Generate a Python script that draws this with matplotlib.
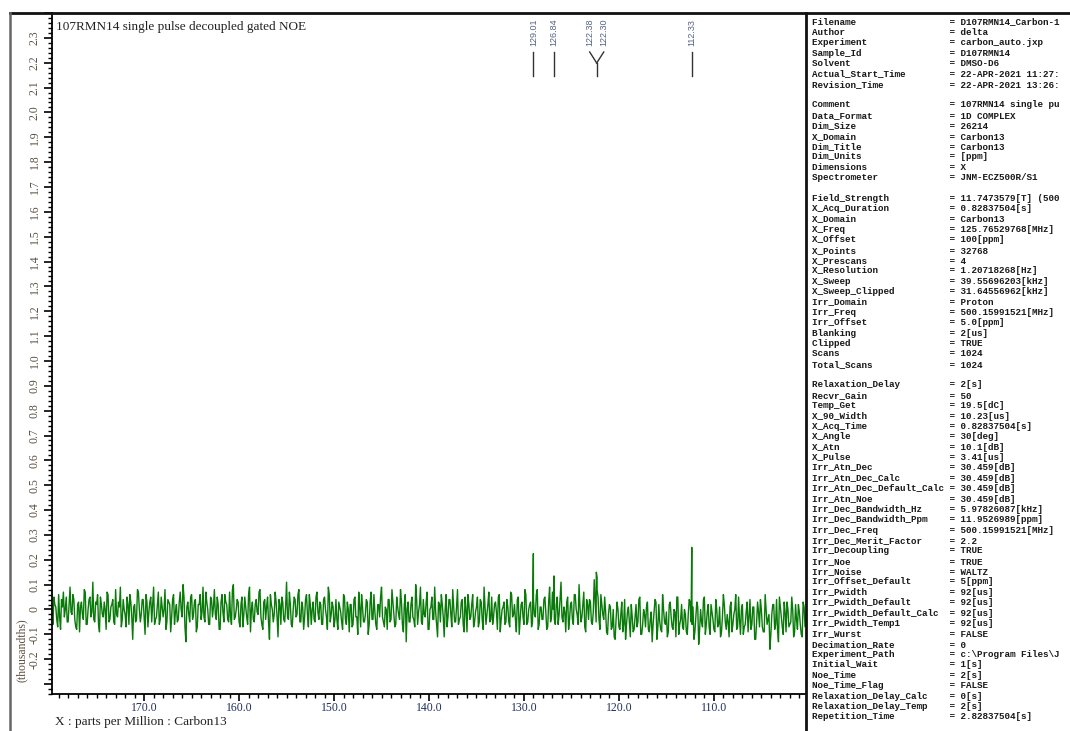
import numpy as np
import matplotlib.pyplot as plt
from matplotlib.lines import Line2D
from matplotlib.ticker import MultipleLocator, FuncFormatter
from matplotlib.transforms import blended_transform_factory

#%% datos
title = '107RMN14 single pulse decoupled gated NOE'
xlabel = 'X : parts per Million : Carbon13'
ylabel = '(thousandths)'

# ruido de la linea de base (centesimas), de 179.8 a 100.2 ppm
noise_a = [3, -6, 2, -4, 6, -8, 1, -3, 5, -5, 9, -2, 4, -7, 2, -9, 3, -4, 7, -6,
           4, -3, 11, -5, 2, -6, 5, -2, 3, -8, 6, -4, 2, -5, 8, -3, 1, -7, 4, -2,
           5, -6, 3, -12, 2, -4, 7, -5, 4, -3, 6, -7, 3, -5, 9, -4, 2, -6, 5, -3,
           8, -5, 3, -9, 4, -6, 2, -4, 7, -3, 5, -13, 3, -5, 6, -2, 4, -7, 2, -4,
           9, -5, 3, -6, 5, -3, 8, -4, 2, -8, 6, -5, 3, -4, 7, -6, 10, -3, 4, -5,
           2, -7, 5, -3, 6, -9, 3, -5, 4, -2, 8, -6, 3, -4, 5, -12, 2, -5, 7, -3,
           4, -6, 3, -5, 11, -4, 2, -7, 5, -3, 6, -5, 3, -8, 4, -2, 6, -6, 3, -5,
           7, -4, 2, -6, 5, -3, 9, -5, 3, -7]
noise_b = [4, -8, 1, -5, 6, -4, 3, -9, 2, -6, 5, -3, 7, -7, 1, -5, 4, -10, 3, -4,
           6, -6, 2, -3, 9, -5, 1, -8, 4, -4, 3, -7, 5, -2, 8, -6, 2, -13, 3, -5,
           5, -4, 10, -6, 2, -5, 4, -3, 7, -8, 1, -4, 9, -6, 3, -5, 2, -11, 6, -3,
           4, -7, 1, -5, 8, -4, 3, -6, 5, -9, 2, -3, 6, -5, 1, -7, 4, -4, 9, -6,
           2, -5, 5, -3, 3, -8, 6, -4, 1, -6, 4, -5, 7, -3, 2, -9, 5, -4, 3, -6,
           6, -5, 2, -7, 4, -3, 8, -6, 1, -4, 5, -8, 3, -5, 7, -4, 2, -6, 4, -3,
           1, -9, 5, -4, 3, -6, 6, -2, 10, -5, 2, -7, 4, -4, 3, -6, 12, -5, 5, -8,
           2, -4]
noise_c = [-1, -10, 2, -8, 0, -12, 3, -7, -2, -9, 4, -6, 1, -11, -3, -8, 2, -5, 5, -10,
           0, -7, 3, -9, -1, -6, 4, -12, 2, -8, 6, -5, -1, -9, 3, -7, 0, -11, 5, -6,
           2, -8, -2, -10, 4, -5, 1, -9, 3, -14, 0, -7, 5, -6, 2, -10, -1, -8, 4, -7,
           1, -9, 6, -5, -2, -11, 3, -6, 0, -8, 5, -10, 2, -7, -1, -9, 4, -6, 1, -12,
           3, -7, 0, -9, 6, -6, -2, -10, 2, -8, 4, -13, 1, -7, 3, -9, 0, -6, 5, -11,
           2, -8, -1, -10, 3, -7, 1]

# puntos intermedios (centesimas), de 179.7 a 100.3 ppm
mid_a = [-2, 5, 1, -7, -3, 4, 7, 0, -5, 2, -1, 6, -4, -8, 3, 1, -2, 8, -6, 0,
         5, -1, -4, 3, 6, -9, 2, -3, 0, 7, -5, 1, 4, -6, -2, 3, 9, -4, 0, -7,
         2, 6, -3, 1, -5, 8, 0, -2, 4, -10, 3, -1, 5, 2, -6, -3, 7, -4, 1, 0,
         -8, 4, 2, -3, 6, -1, -5, 3, 0, 10, -7, 1, -2, 5, -4, 3, -9, 2, 6, -1,
         -3, 7, 0, -6, 4, 1, -2, 5, -8, 3, -1, 6, 2, -5, -3, 8, -4, 0, 3, -7,
         5, -2, 1, -6, 9, 0, -4, 2, -1, 7, -3, -8, 4, 1, -5, 6, 0, -2, 3, -11,
         2, 5, -4, 1, -3, 7, -6, 0, 4, -2, 8, -5, 1, -3, 6, -7, 2, 0, -4, 5,
         -1, 3, -6, 4, 0, -8, 6, -2, 1, -4]
mid_b = [-4, 3, -1, -8, 5, -6, 0, 2, -7, 4, -3, -10, 1, 6, -5, -2, 3, -6, 7, -4,
         -1, -8, 2, 5, -3, -7, 0, 4, -5, 8, -2, -6, 1, -4, 3, -9, 6, 0, -5, 2,
         -3, -7, 4, -1, 9, -6, -2, 3, -8, 0, 5, -4, -1, -11, 2, 6, -3, 0, -7, 4,
         -2, 8, -5, 1, -6, -3, 4, -9, 0, 6, -4, 2, -7, -1, 5, -5, 3, -8, 1, -2,
         7, -4, -6, 2, -1, 5, -9, 0, 3, -5, 1, -7, 6, -2, -4, 4, -10, 2, -3, 8,
         -6, 0, 3, -5, -2, 6, -8, 1, -4, 4, -1, -7, 9, -3, 0, -6, 5, -2, 11, -5,
         -1, 3, -8, 2, -4, 6, 0, -6, 1, -3, 7, -9, 2, 4, -5, -1, 3, 8, -4, 6,
         -2, 5]
mid_c = [-9, -2, 1, -7, -11, -4, 0, -8, 3, -6, -12, -1, -5, 2, -9, -3, -7, 4, -10, -6,
         -2, 1, -8, -4, -13, -1, 3, -7, -5, -9, 0, -6, -11, 2, -3, -8, -1, 5, -10, -4,
         -7, 0, -9, -2, 3, -6, -12, -3, 1, -8, -5, 4, -10, -1, -7, 2, -4, -9, 0, -6,
         -11, -3, 2, -8, -5, 1, -9, -2, 6, -7, -4, 0, -10, -6, 3, -3, -8, 1, -12, -5,
         -1, 4, -7, -9, 0, -4, -16, -2, 2, -6, -8, 5, -3, -10, -1, 3, -7, -5, 0, -9,
         -4, 2, -6, -11, 1, -3]

# picos
peak_ppm = [129.01, 126.84, 122.38, 122.30, 112.33]
peak_height = [0.225, 0.135, 0.150, 0.130, 0.250]
peak_labels = ['129.01', '126.84', '122.38', '122.30', '112.33']

# parametros de adquisicion
params = [
    ('Filename', 'D107RMN14_Carbon-1'), ('Author', 'delta'),
    ('Experiment', 'carbon_auto.jxp'), ('Sample_Id', 'D107RMN14'),
    ('Solvent', 'DMSO-D6'), ('Actual_Start_Time', '22-APR-2021 11:27:'),
    ('Revision_Time', '22-APR-2021 13:26:'), None,
    ('Comment', '107RMN14 single pu'), ('Data_Format', '1D COMPLEX'),
    ('Dim_Size', '26214'), ('X_Domain', 'Carbon13'), ('Dim_Title', 'Carbon13'),
    ('Dim_Units', '[ppm]'), ('Dimensions', 'X'), ('Spectrometer', 'JNM-ECZ500R/S1'), None,
    ('Field_Strength', '11.7473579[T] (500'), ('X_Acq_Duration', '0.82837504[s]'),
    ('X_Domain', 'Carbon13'), ('X_Freq', '125.76529768[MHz]'), ('X_Offset', '100[ppm]'),
    ('X_Points', '32768'), ('X_Prescans', '4'), ('X_Resolution', '1.20718268[Hz]'),
    ('X_Sweep', '39.55696203[kHz]'), ('X_Sweep_Clipped', '31.64556962[kHz]'),
    ('Irr_Domain', 'Proton'), ('Irr_Freq', '500.15991521[MHz]'), ('Irr_Offset', '5.0[ppm]'),
    ('Blanking', '2[us]'), ('Clipped', 'TRUE'), ('Scans', '1024'), ('Total_Scans', '1024'), None,
    ('Relaxation_Delay', '2[s]'), ('Recvr_Gain', '50'), ('Temp_Get', '19.5[dC]'),
    ('X_90_Width', '10.23[us]'), ('X_Acq_Time', '0.82837504[s]'), ('X_Angle', '30[deg]'),
    ('X_Atn', '10.1[dB]'), ('X_Pulse', '3.41[us]'), ('Irr_Atn_Dec', '30.459[dB]'),
    ('Irr_Atn_Dec_Calc', '30.459[dB]'), ('Irr_Atn_Dec_Default_Calc', '30.459[dB]'),
    ('Irr_Atn_Noe', '30.459[dB]'), ('Irr_Dec_Bandwidth_Hz', '5.97826087[kHz]'),
    ('Irr_Dec_Bandwidth_Ppm', '11.9526989[ppm]'), ('Irr_Dec_Freq', '500.15991521[MHz]'),
    ('Irr_Dec_Merit_Factor', '2.2'), ('Irr_Decoupling', 'TRUE'), ('Irr_Noe', 'TRUE'),
    ('Irr_Noise', 'WALTZ'), ('Irr_Offset_Default', '5[ppm]'), ('Irr_Pwidth', '92[us]'),
    ('Irr_Pwidth_Default', '92[us]'), ('Irr_Pwidth_Default_Calc', '92[us]'),
    ('Irr_Pwidth_Temp1', '92[us]'), ('Irr_Wurst', 'FALSE'), ('Decimation_Rate', '0'),
    ('Experiment_Path', 'c:\\Program Files\\J'), ('Initial_Wait', '1[s]'),
    ('Noe_Time', '2[s]'), ('Noe_Time_Flag', 'FALSE'), ('Relaxation_Delay_Calc', '0[s]'),
    ('Relaxation_Delay_Temp', '2[s]'), ('Repetition_Time', '2.82837504[s]'),
]

#%% armo el espectro
noise = np.array(noise_a + noise_b + noise_c) * 0.01
mid = np.array(mid_a + mid_b + mid_c) * 0.01
grid = np.linspace(179.8, 100.2, len(noise))
grid_mid = np.linspace(179.7, 100.3, len(mid))
ppm = np.concatenate([grid, grid_mid, peak_ppm])
inten = np.concatenate([noise, mid, peak_height])
order = np.argsort(ppm)[::-1]
ppm, inten = ppm[order], inten[order]

#%% grafico
W, H = 1070, 731
fig = plt.figure(figsize=(W / 100, H / 100), dpi=100)
ax = fig.add_axes([52 / W, 1 - 694 / H, (806 - 52) / W, (694 - 13) / H])
ax.plot(ppm, inten, color='#087a08', lw=1.0)
ax.set_xlim(179.7, 100.3)
ax.set_ylim(-0.34, 2.40)

for s in ['top', 'right']:
    ax.spines[s].set_visible(False)
ax.spines['left'].set_linewidth(1.3)
ax.spines['bottom'].set_linewidth(1.3)

ax.xaxis.set_major_locator(MultipleLocator(10))
ax.xaxis.set_minor_locator(MultipleLocator(1))
ax.xaxis.set_major_formatter(FuncFormatter(lambda v, p: '%.1f' % v))
ax.tick_params(axis='x', which='major', length=5, width=1.2, direction='out',
               labelsize=8.5, labelcolor='#1f2f5f', pad=1)
ax.tick_params(axis='x', which='minor', length=3, width=1.0, direction='out')

ax.yaxis.set_major_locator(MultipleLocator(0.1))
ax.yaxis.set_minor_locator(MultipleLocator(0.02))


def yfmt(v, p):
    if v < -0.25 or v > 2.35:
        return ''
    if abs(v) < 1e-9:
        return '0'
    return '%.1f' % v


ax.yaxis.set_major_formatter(FuncFormatter(yfmt))
ax.tick_params(axis='y', which='major', length=6, width=1.2, direction='out',
               labelsize=8.5, labelcolor='#5e5040', labelrotation=90, pad=2)
ax.tick_params(axis='y', which='minor', length=3, width=1.0, direction='out')
for t in ax.get_xticklabels() + ax.get_yticklabels():
    t.set_family('Liberation Serif')
for t in ax.get_yticklabels():
    t.set_va('center')

fig.text(56 / W, 1 - 27 / H, title, family='Liberation Serif', fontsize=9.5,
         color='#222222', va='center', ha='left')
fig.text(55 / W, 1 - 722 / H, xlabel, family='Liberation Serif', fontsize=9.5,
         color='#222222', va='center', ha='left')
fig.text(22 / W, 1 - 650 / H, ylabel, family='Liberation Serif', fontsize=8.5,
         color='#5e5040', va='center', ha='center', rotation=90)

# marcas de picos
tr = blended_transform_factory(ax.transData, fig.transFigure)
shift = [0, 0, 0.7, -0.7, 0]
y_top, y_mid, y_bot, y_lab = 1 - 52 / H, 1 - 63 / H, 1 - 76 / H, 1 - 46 / H
pair = (peak_ppm[2] + peak_ppm[3]) / 2
for i, (p, lab) in enumerate(zip(peak_ppm, peak_labels)):
    xl = p + shift[i]
    fig.text(xl, y_lab, lab, transform=tr, rotation=90, ha='center', va='bottom',
             fontsize=6.5, color='#55647f', family='Liberation Sans')
    if shift[i] == 0:
        fig.add_artist(Line2D([p, p], [y_top, y_bot], transform=tr, color='#333333', lw=1))
    else:
        fig.add_artist(Line2D([xl, pair], [y_top, y_mid], transform=tr, color='#333333', lw=1))
fig.add_artist(Line2D([pair, pair], [y_mid, y_bot], transform=tr, color='#333333', lw=1))

# marco
fig.add_artist(Line2D([10 / W, 1], [1 - 13 / H] * 2, color='#111111', lw=2))
fig.add_artist(Line2D([10 / W] * 2, [0, 1 - 13 / H], color='#666666', lw=1.8))
fig.add_artist(Line2D([806 / W] * 2, [0, 1 - 13 / H], color='#111111', lw=2))

# panel de parametros
for i, item in enumerate(params):
    if item is None:
        continue
    k, v = item
    fig.text(812 / W, 1 - (22 + i * 10.37) / H, f'{k:<25}= {v}',
             family='Liberation Mono', fontsize=6.7, weight='bold',
             color='#1a1a1a', va='center', ha='left')

fig.savefig('out.png', dpi=100)
